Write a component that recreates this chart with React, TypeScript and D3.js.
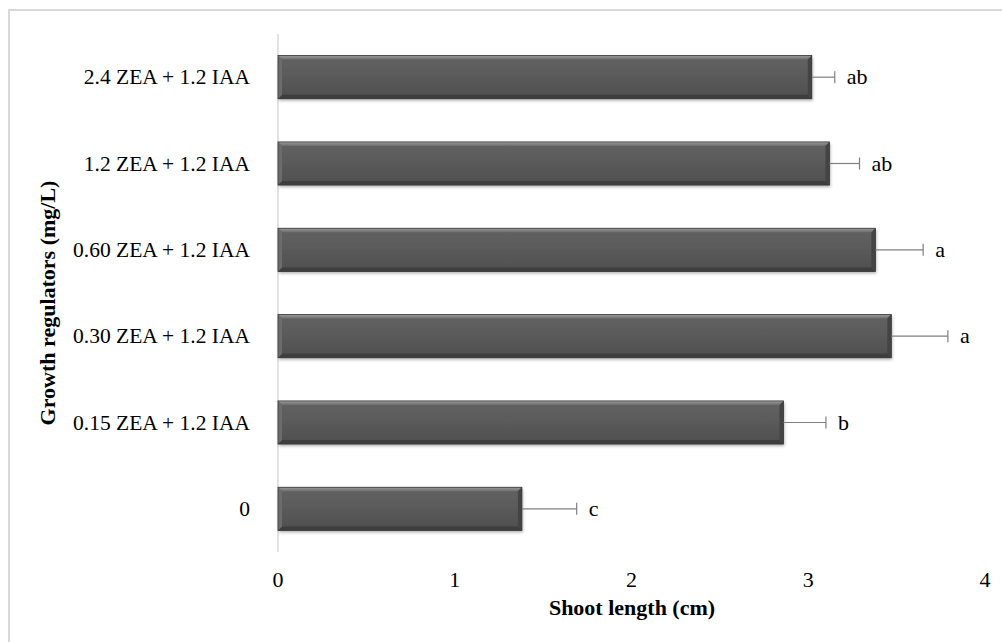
import React from "react";
import * as d3 from "d3";

const categories = [
  "2.4 ZEA + 1.2 IAA",
  "1.2 ZEA + 1.2 IAA",
  "0.60 ZEA + 1.2 IAA",
  "0.30 ZEA + 1.2 IAA",
  "0.15 ZEA + 1.2 IAA",
  "0",
];
const values = [3.02, 3.12, 3.38, 3.47, 2.86, 1.38];
const errors = [0.13, 0.17, 0.27, 0.32, 0.24, 0.31];
const letters = ["ab", "ab", "a", "a", "b", "c"];
const xTicks = [0, 1, 2, 3, 4];

const W = 1002;
const H = 642;
const FONT = "'Liberation Serif', 'Times New Roman', serif";

export default function App() {
  const x = d3.scaleLinear().domain([0, 4]).range([278, 985]);
  const y = d3.scaleBand<string>().domain(categories).range([34, 552]).paddingInner(0.5).paddingOuter(0.25);
  const bw = y.bandwidth();
  const bev = 4;

  return (
    <svg width={W} height={H} style={{ position: "absolute", left: 0, top: 0, background: "#fff" }}>
      <defs>
        <linearGradient id="face" x1="0" y1="0" x2="0" y2="1">
          <stop offset="0" stopColor="#626262" />
          <stop offset="0.5" stopColor="#5a5a5a" />
          <stop offset="1" stopColor="#4e4e4e" />
        </linearGradient>
        <linearGradient id="topb" x1="0" y1="0" x2="0" y2="1">
          <stop offset="0" stopColor="#9a9a9a" />
          <stop offset="1" stopColor="#6e6e6e" />
        </linearGradient>
        <filter id="shadow" x="-5%" y="-20%" width="110%" height="150%">
          <feDropShadow dx="1" dy="2" stdDeviation="1.5" floodColor="#000" floodOpacity="0.3" />
        </filter>
      </defs>
      <rect x={9} y={10} width={1100} height={1000} fill="#fff" stroke="#d9d9d9" strokeWidth={2} />
      <line x1={x(0)} x2={x(0)} y1={34} y2={552} stroke="#d9d9d9" strokeWidth={1.5} />
      {categories.map((c, i) => {
        const y0 = y(c)!;
        const x0 = x(0);
        const x1 = x(values[i]);
        const cy = y0 + bw / 2;
        const ex = x(values[i] + errors[i]);
        return (
          <g key={c}>
            <g filter="url(#shadow)">
              <rect x={x0} y={y0} width={x1 - x0} height={bw} fill="url(#face)" />
            </g>
            <polygon points={`${x0},${y0} ${x1},${y0} ${x1 - bev},${y0 + bev} ${x0 + bev},${y0 + bev}`} fill="url(#topb)" />
            <polygon points={`${x0},${y0 + bw} ${x1},${y0 + bw} ${x1 - bev},${y0 + bw - bev} ${x0 + bev},${y0 + bw - bev}`} fill="#3e3e3e" />
            <polygon points={`${x0},${y0} ${x0 + bev},${y0 + bev} ${x0 + bev},${y0 + bw - bev} ${x0},${y0 + bw}`} fill="#6c6c6c" />
            <polygon points={`${x1},${y0} ${x1 - bev},${y0 + bev} ${x1 - bev},${y0 + bw - bev} ${x1},${y0 + bw}`} fill="#444" />
            <rect x={x0} y={y0} width={x1 - x0} height={bw} fill="none" stroke="#3a3a3a" strokeWidth={0.8} />
            <line x1={x1} x2={ex} y1={cy} y2={cy} stroke="#7f7f7f" strokeWidth={1.2} />
            <line x1={ex} x2={ex} y1={cy - 6} y2={cy + 6} stroke="#7f7f7f" strokeWidth={1.2} />
            <text x={ex + 12} y={cy + 7} fontFamily={FONT} fontSize={22} fill="#000">{letters[i]}</text>
            <text x={250} y={cy + 7} textAnchor="end" fontFamily={FONT} fontSize={21.5} fill="#000">{c}</text>
          </g>
        );
      })}
      {xTicks.map((t) => (
        <text key={t} x={x(t)} y={587} textAnchor="middle" fontFamily={FONT} fontSize={22} fill="#000">{t}</text>
      ))}
      <text x={632} y={615} textAnchor="middle" fontFamily={FONT} fontSize={22} fontWeight="bold" fill="#000">Shoot length (cm)</text>
      <text transform="translate(55,303) rotate(-90)" textAnchor="middle" fontFamily={FONT} fontSize={22} fontWeight="bold" fill="#000">Growth regulators (mg/L)</text>
    </svg>
  );
}
